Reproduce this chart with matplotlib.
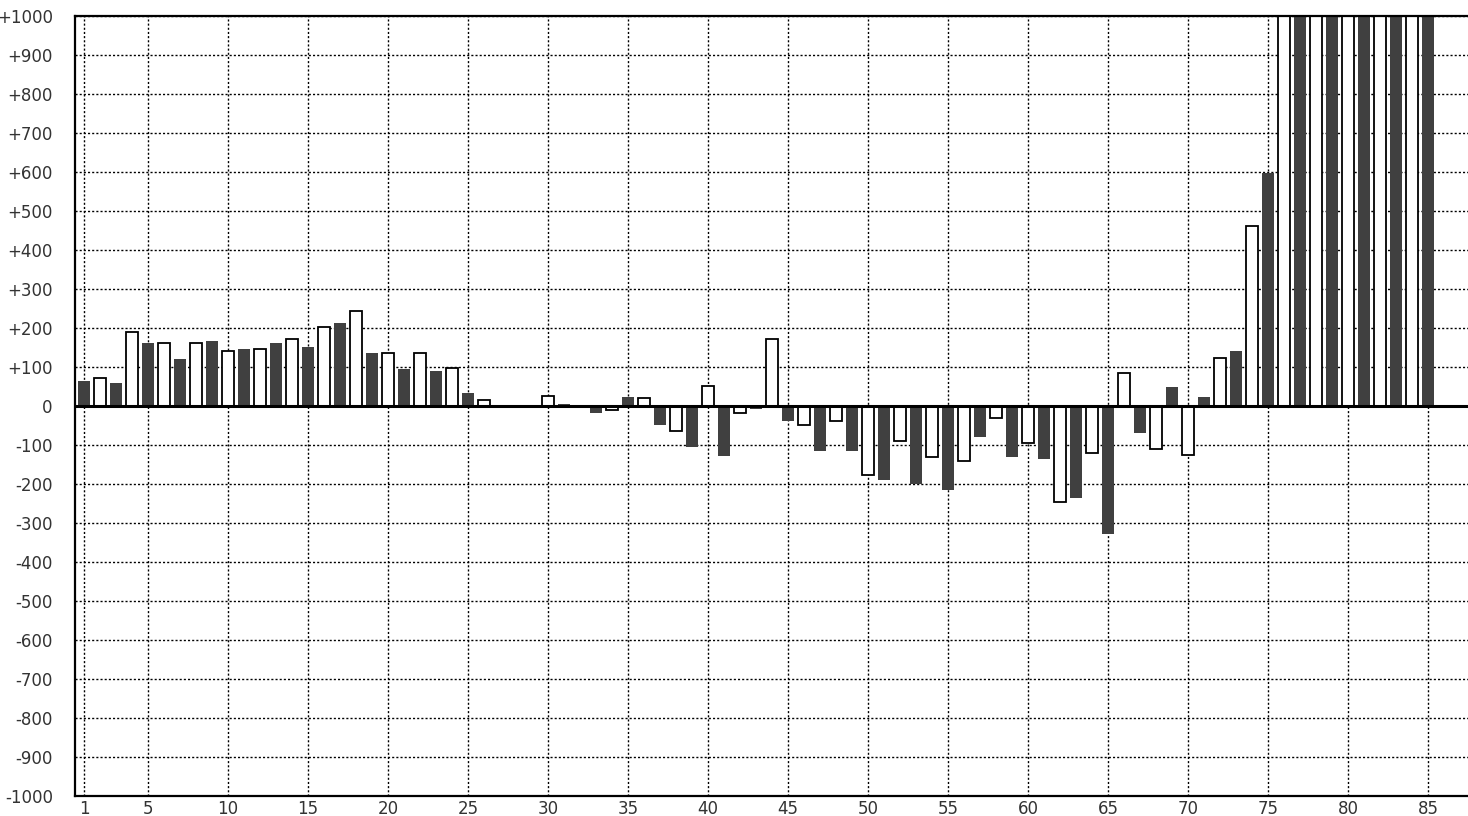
import numpy as np
import matplotlib
matplotlib.use('Agg')
import matplotlib.pyplot as plt

# data
# =======================
categories = list(range(1, 86))
values = [
    64, 72, 59, 191, 162, 161, 121, 161, 167, 141,
    147, 146, 162, 171, 152, 202, 214, 243, 136, 135,
    95, 135, 90, 98, 33, 16, 0, 0, 0, 26,
    6, 0, -18, -11, 22, 21, -49, -64, -106, 52,
    -127, -17, -8, 171, -39, -48, -116, -38, -116, -178,
    -189, -90, -200, -130, -215, -141, -80, -32, -132, -95,
    -137, -245, -235, -120, -328, 84, -70, -109, 48, -126,
    22, 124, 141, 462, 598, 1500, 1500, 1500, 1500, 1500,
    1500, 1500, 1500, 1500, 1500,
]
x_ticks = [1, 5, 10, 15, 20, 25, 30, 35, 40, 45, 50, 55, 60, 65, 70, 75, 80, 85]
y_ticks = list(range(-1000, 1001, 100))
y_labels = ['0' if v == 0 else ('+%d' % v if v > 0 else '-%d' % -v) for v in y_ticks]

# plot
# =======================
fig = plt.figure(figsize=(14.68, 8.16), dpi=100)
ax = fig.add_axes([75 / 1468, 20 / 816, 1 - 75 / 1468, 780 / 816])

x = np.array(categories)
y = np.array(values)
odd = x % 2 == 1
ax.bar(x[odd], y[odd], width=0.75, color='#404040', edgecolor='none', zorder=2)
ax.bar(x[~odd], y[~odd], width=0.72, facecolor='white', edgecolor='black',
       linewidth=1.3, zorder=2)

# zero line across the bars
ax.axhline(0, color='black', linewidth=2.2, zorder=3)

ax.set_xlim(0.44, 87.5)
ax.set_ylim(-1000, 1000)
ax.set_xticks(x_ticks)
ax.set_yticks(y_ticks)
ax.set_yticklabels(y_labels)

ax.grid(True, color='black', linestyle=(0, (1.5, 1.5)), linewidth=1.0, zorder=0)
ax.set_axisbelow(True)

ax.tick_params(axis='both', length=0, labelsize=12, labelcolor='#333333')
ax.tick_params(axis='y', pad=16)
ax.tick_params(axis='x', pad=3)

for side in ['left', 'bottom', 'top']:
    ax.spines[side].set_linewidth(1.6)
    ax.spines[side].set_color('black')
ax.spines['right'].set_visible(False)

fig.savefig('out.png', dpi=100)
